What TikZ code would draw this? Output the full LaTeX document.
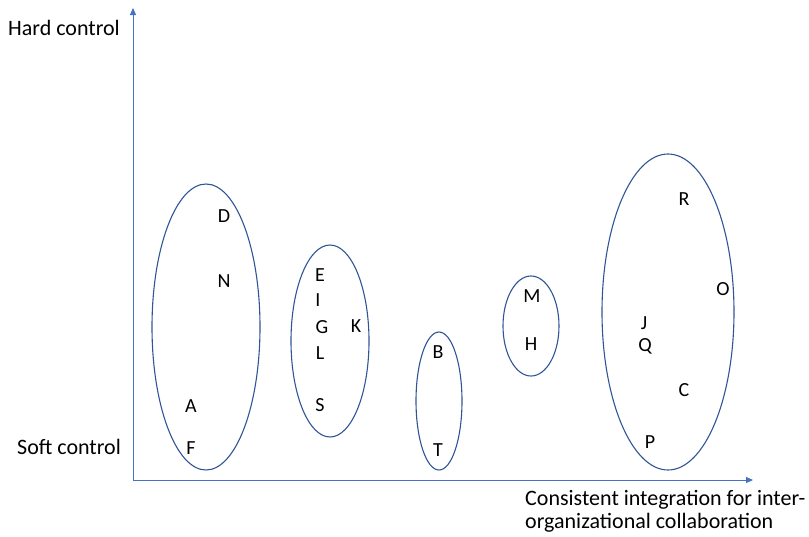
\documentclass[tikz,border=0pt]{standalone}
\usepackage{fontspec}
\setmainfont{Carlito}
\usetikzlibrary{arrows.meta}
\definecolor{axisblue}{HTML}{4472C4}
\definecolor{ellblue}{HTML}{2F5597}
\begin{document}
\begin{tikzpicture}[x=1pt,y=-1pt,
  axis/.style={draw=axisblue,line width=0.9pt,-{Triangle[length=7pt,width=6pt]}},
  group/.style={draw=ellblue,line width=1.1pt},
  lbl/.style={font=\fontsize{20}{24}\selectfont,inner sep=0pt},
  txt/.style={font=\fontsize{22}{26}\selectfont,inner sep=0pt,anchor=west}]
\useasboundingbox (0,0) rectangle (809,536);
\coordinate (o) at (133,480);
\coordinate (ytop) at (133,8);
\coordinate (xend) at (753,480);
\draw[axis] (o) -- (ytop);
\draw[axis] (o) -- (xend);
\node[txt] (hard) at (8,28) {Hard control};
\node[txt] (soft) at (17,447) {Soft control};
\node[txt] (xl1) at (525,500) {Consistent integration for inter-};
\node[txt] (xl2) at (525,523) {organizational collaboration};
% groups
\draw[group] (206,327) ellipse [x radius=54, y radius=143];
\draw[group] (330,341) ellipse [x radius=39, y radius=96];
\draw[group] (439,401) ellipse [x radius=23, y radius=69];
\draw[group] (531,326) ellipse [x radius=28, y radius=50];
\draw[group] (668,312) ellipse [x radius=66, y radius=158];
% letters
\node[lbl] (D) at (224,216) {D};
\node[lbl] (N) at (224,281) {N};
\node[lbl] (A) at (191,406) {A};
\node[lbl] (F) at (191,448) {F};
\node[lbl] (E) at (320,275) {E};
\node[lbl] (I) at (318,300) {I};
\node[lbl] (G) at (322,327) {G};
\node[lbl] (L) at (320,353) {L};
\node[lbl] (S) at (320,405) {S};
\node[lbl] (K) at (356,326) {K};
\node[lbl] (B) at (438,352) {B};
\node[lbl] (T) at (438,450) {T};
\node[lbl] (M) at (532,296) {M};
\node[lbl] (H) at (531,344) {H};
\node[lbl] (R) at (684,199) {R};
\node[lbl] (O) at (723,289) {O};
\node[lbl] (J) at (644,323) {J};
\node[lbl] (Q) at (645,346) {Q};
\node[lbl] (C) at (684,390) {C};
\node[lbl] (P) at (650,442) {P};
\end{tikzpicture}
\end{document}
